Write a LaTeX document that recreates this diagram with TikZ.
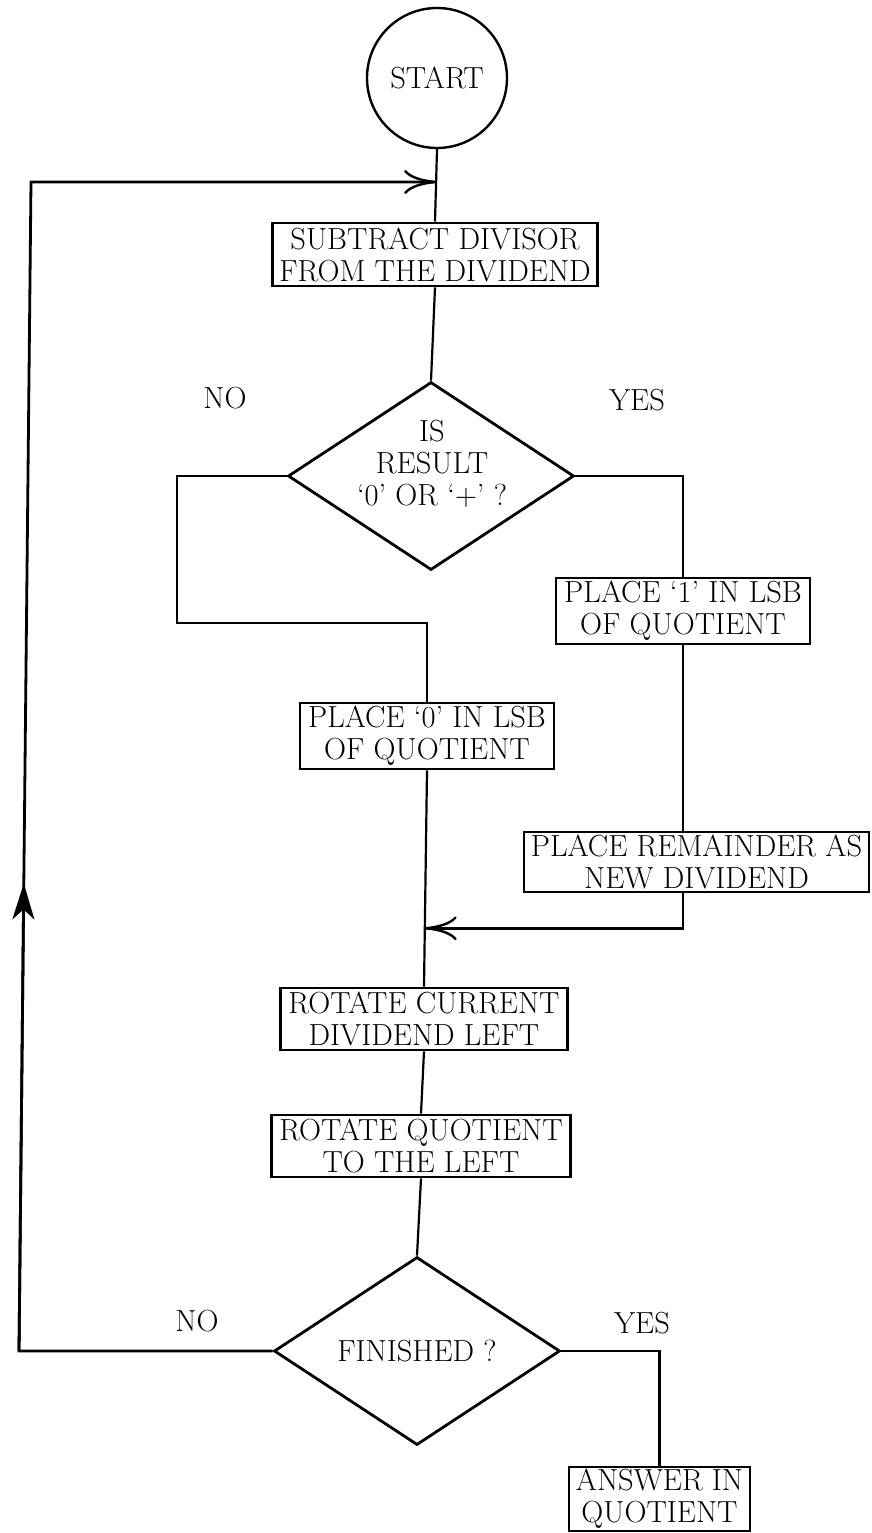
\documentclass[tikz,border=0pt]{standalone}
\usepackage{fontspec}
\usetikzlibrary{arrows.meta,shapes.geometric,calc}
\begin{document}
\begin{tikzpicture}[x=1pt,y=-1pt,
  every node/.style={font=\fontsize{30.5}{32}\selectfont},
  box/.style={draw,line width=2.8pt,inner xsep=4pt,inner ysep=2pt,align=center},
  dec/.style={draw,shape=diamond,line width=2.8pt,inner sep=0pt,minimum width=286pt,minimum height=188pt},
  conn/.style={line width=2.2pt},
  backline/.style={line width=2.8pt},
  openarrow/.style={-{Computer Modern Rightarrow[length=32pt,width=24pt,line width=2.4pt]}},
  lbl/.style={inner sep=0pt,align=center}
]
\fill[white] (0,0) rectangle (871,1533);
\useasboundingbox (0,0) rectangle (871,1533);

\node[draw,circle,line width=2.4pt,minimum size=140pt,inner sep=0pt] (start) at (437,78) {START};
\node[box,minimum width=325pt,minimum height=63pt] (sub) at (435,254.5) {SUBTRACT DIVISOR\\FROM THE DIVIDEND};
\node[dec] (d1) at (431,476) {};
\node[lbl] (d1t) at (432,463.5) {IS\\RESULT\\‘0’ OR ‘+’ ?};
\node[lbl] (no1) at (225,398) {NO};
\node[lbl] (yes1) at (637,400) {YES};
\node[box,minimum width=254pt,minimum height=66pt] (p1) at (683,611) {PLACE ‘1’ IN LSB\\OF QUOTIENT};
\node[box,minimum width=254pt,minimum height=66pt] (p0) at (427,736) {PLACE ‘0’ IN LSB\\OF QUOTIENT};
\node[box,minimum width=345pt,minimum height=60pt] (rem) at (696.5,862) {PLACE REMAINDER AS\\NEW DIVIDEND};
\node[box,minimum width=287pt,minimum height=62pt] (rotc) at (424,1019) {ROTATE CURRENT\\DIVIDEND LEFT};
\node[box,minimum width=299pt,minimum height=62pt] (rotq) at (421,1146) {ROTATE QUOTIENT\\TO THE LEFT};
\node[dec] (d2) at (417,1351) {FINISHED ?};
\node[lbl] (no2) at (197,1321) {NO};
\node[lbl] (yes2) at (642,1323) {YES};
\node[box,minimum width=181pt,minimum height=64pt] (ans) at (659.5,1499) {ANSWER IN\\QUOTIENT};

\coordinate (j1) at ($(start.south)!0.45!(sub.north)$);
\draw[conn] (start.south) -- (sub.north);
\draw[conn] (sub.south) -- (d1.north);
\coordinate (nl) at (177,623);
\draw[backline] (d1.west) -| (nl) -| (p0.north);
\draw[backline] (d1.east) -| (p1.north);
\draw[conn] (p1.south) -- (p1.south |- rem.north);
\coordinate (j2) at ($(p0.south)!0.73!(rotc.north)$);
\draw[conn] (p0.south) -- (rotc.north);
\draw[backline,openarrow] (rem.south -| p1.south) |- (j2);
\draw[conn] (rotc.south) -- (rotq.north);
\draw[conn] (rotq.south) -- (d2.north);
\coordinate (c1) at (19,1351);
\coordinate (c2) at (31,182);
\draw[backline,openarrow] (d2.west) -- (c1) -- (c2) -- (c2 -| j1);
\draw[backline,-{Stealth[length=36pt,width=22pt,inset=10pt]}] (c1) -- ($(c1)!0.4!(c2)$);
\draw[backline] (d2.east) -| (ans.north);
\end{tikzpicture}
\end{document}
